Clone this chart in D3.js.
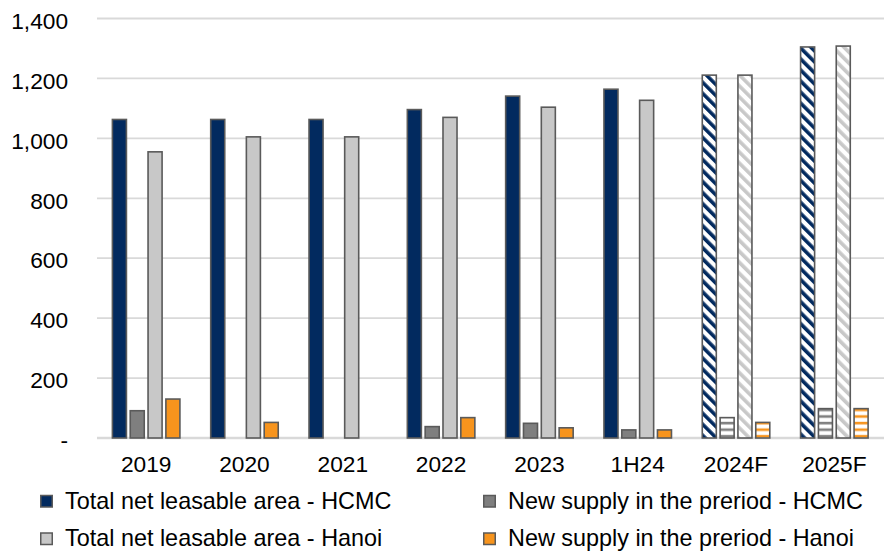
<!DOCTYPE html>
<html>
<head>
<meta charset="utf-8">
<script src="https://cdn.jsdelivr.net/npm/d3@7"></script>
<style>
  html, body { margin: 0; padding: 0; background: #fff; }
  svg { display: block; font-family: "Liberation Sans", Arial, sans-serif; }
</style>
</head>
<body>
<svg id="chart" width="887" height="554"></svg>
<script>
// Net leasable area and new supply, HCMC vs Hanoi
const categories = ["2019", "2020", "2021", "2022", "2023", "1H24", "2024F", "2025F"];
const forecastCategories = ["2024F", "2025F"];
const hcmcTotal   = [1063, 1063, 1063, 1096, 1141, 1164, 1211, 1305];
const hcmcSupply  = [91, 0, 0, 38, 49, 27, 68, 98];
const hanoiTotal  = [955, 1005, 1005, 1070, 1104, 1127, 1211, 1308];
const hanoiSupply = [130, 52, 0, 68, 34, 27, 52, 98];
const yTicks = [0, 200, 400, 600, 800, 1000, 1200, 1400];

const seriesNames = [
  "Total net leasable area - HCMC",
  "New supply in the preriod - HCMC",
  "Total net leasable area - Hanoi",
  "New supply in the preriod - Hanoi"
];
const seriesValues = [hcmcTotal, hcmcSupply, hanoiTotal, hanoiSupply];
const seriesColors = ["#022a5f", "#7f7f7f", "#c8c8c8", "#f7941d"];
const borderColor = "#5a5a5a";

const svg = d3.select("#chart");
const fontSize = 22.7;
const legendFontSize = 23.4;

const plot = { left: 97, right: 884, top: 18.5, bottom: 438 };

const x = d3.scaleBand()
  .domain(categories)
  .range([plot.left, plot.right - 0.5])
  .paddingInner(0.298)
  .paddingOuter(0.149);

const groupGap = 2.3;
const xs = d3.scaleBand()
  .domain(d3.range(4))
  .range([0, x.bandwidth() + groupGap]);
const barW = xs.bandwidth() - groupGap;

const y = d3.scaleLinear().domain([0, 1400]).range([plot.bottom, plot.top]);

// Hatch patterns for forecast bars
const defs = svg.append("defs");
function diagPattern(id, color) {
  const p = defs.append("pattern")
    .attr("id", id)
    .attr("patternUnits", "userSpaceOnUse")
    .attr("width", 7.8).attr("height", 7.8)
    .attr("patternTransform", "rotate(-45)");
  p.append("rect").attr("width", 7.8).attr("height", 7.8).attr("fill", "#fff");
  p.append("rect").attr("width", 3.6).attr("height", 7.8).attr("fill", color);
}
function horizPattern(id, color) {
  const p = defs.append("pattern")
    .attr("id", id)
    .attr("patternUnits", "userSpaceOnUse")
    .attr("width", 8).attr("height", 6.6)
    .attr("y", plot.bottom);
  p.append("rect").attr("width", 8).attr("height", 6.6).attr("fill", "#fff");
  p.append("rect").attr("y", 3.6).attr("width", 8).attr("height", 2.6).attr("fill", color);
}
diagPattern("hatch0", seriesColors[0]);
horizPattern("hatch1", seriesColors[1]);
diagPattern("hatch2", seriesColors[2]);
horizPattern("hatch3", seriesColors[3]);

// Gridlines
svg.append("g")
  .selectAll("line")
  .data(yTicks)
  .join("line")
  .attr("x1", plot.left).attr("x2", plot.right)
  .attr("y1", d => y(d)).attr("y2", d => y(d))
  .attr("stroke", "#d9d9d9")
  .attr("stroke-width", d => d === 0 ? 2.4 : 1.8);

// Y axis labels
const yAxis = svg.append("g")
  .attr("transform", `translate(${plot.left},0)`)
  .call(d3.axisLeft(y)
    .tickValues(yTicks)
    .tickSize(0)
    .tickPadding(29)
    .tickFormat(d => d === 0 ? "-" : d3.format(",")(d)));
yAxis.select(".domain").remove();
yAxis.selectAll("text")
  .attr("font-size", fontSize)
  .attr("font-family", "Liberation Sans, Arial, sans-serif")
  .attr("fill", "#000")
  .attr("dy", "0.43em");

// X axis labels
const xAxis = svg.append("g")
  .attr("transform", `translate(0,${plot.bottom})`)
  .call(d3.axisBottom(x).tickSize(0).tickPadding(18));
xAxis.select(".domain").remove();
xAxis.selectAll("text")
  .attr("font-size", fontSize)
  .attr("font-family", "Liberation Sans, Arial, sans-serif")
  .attr("fill", "#000")
  .attr("dy", "0.71em");

// Bars
const barData = [];
categories.forEach((c, i) => {
  seriesValues.forEach((vals, s) => {
    if (vals[i] > 0) barData.push({ cat: c, s, v: vals[i], forecast: forecastCategories.includes(c) });
  });
});

svg.append("g")
  .selectAll("rect")
  .data(barData)
  .join("rect")
  .attr("x", d => x(d.cat) + xs(d.s) + 0.75)
  .attr("width", barW - 1.5)
  .attr("y", d => y(d.v))
  .attr("height", d => y(0) - y(d.v))
  .attr("fill", d => d.forecast ? `url(#hatch${d.s})` : seriesColors[d.s])
  .attr("stroke", borderColor)
  .attr("stroke-width", 1.6);

// Legend
const legendItems = [
  { s: 0, x: 40, y: 508.5 },
  { s: 1, x: 483, y: 508.5 },
  { s: 2, x: 40, y: 546 },
  { s: 3, x: 483, y: 546 }
];
const legend = svg.append("g").selectAll("g")
  .data(legendItems)
  .join("g");
legend.append("rect")
  .attr("x", d => d.x + 0.75)
  .attr("y", d => d.y - 13)
  .attr("width", 11.5).attr("height", 11.5)
  .attr("fill", d => seriesColors[d.s])
  .attr("stroke", borderColor)
  .attr("stroke-width", 1.5);
legend.append("text")
  .attr("x", d => d.x + 25)
  .attr("y", d => d.y)
  .attr("font-size", legendFontSize)
  .attr("fill", "#000")
  .text(d => seriesNames[d.s]);
</script>
</body>
</html>
